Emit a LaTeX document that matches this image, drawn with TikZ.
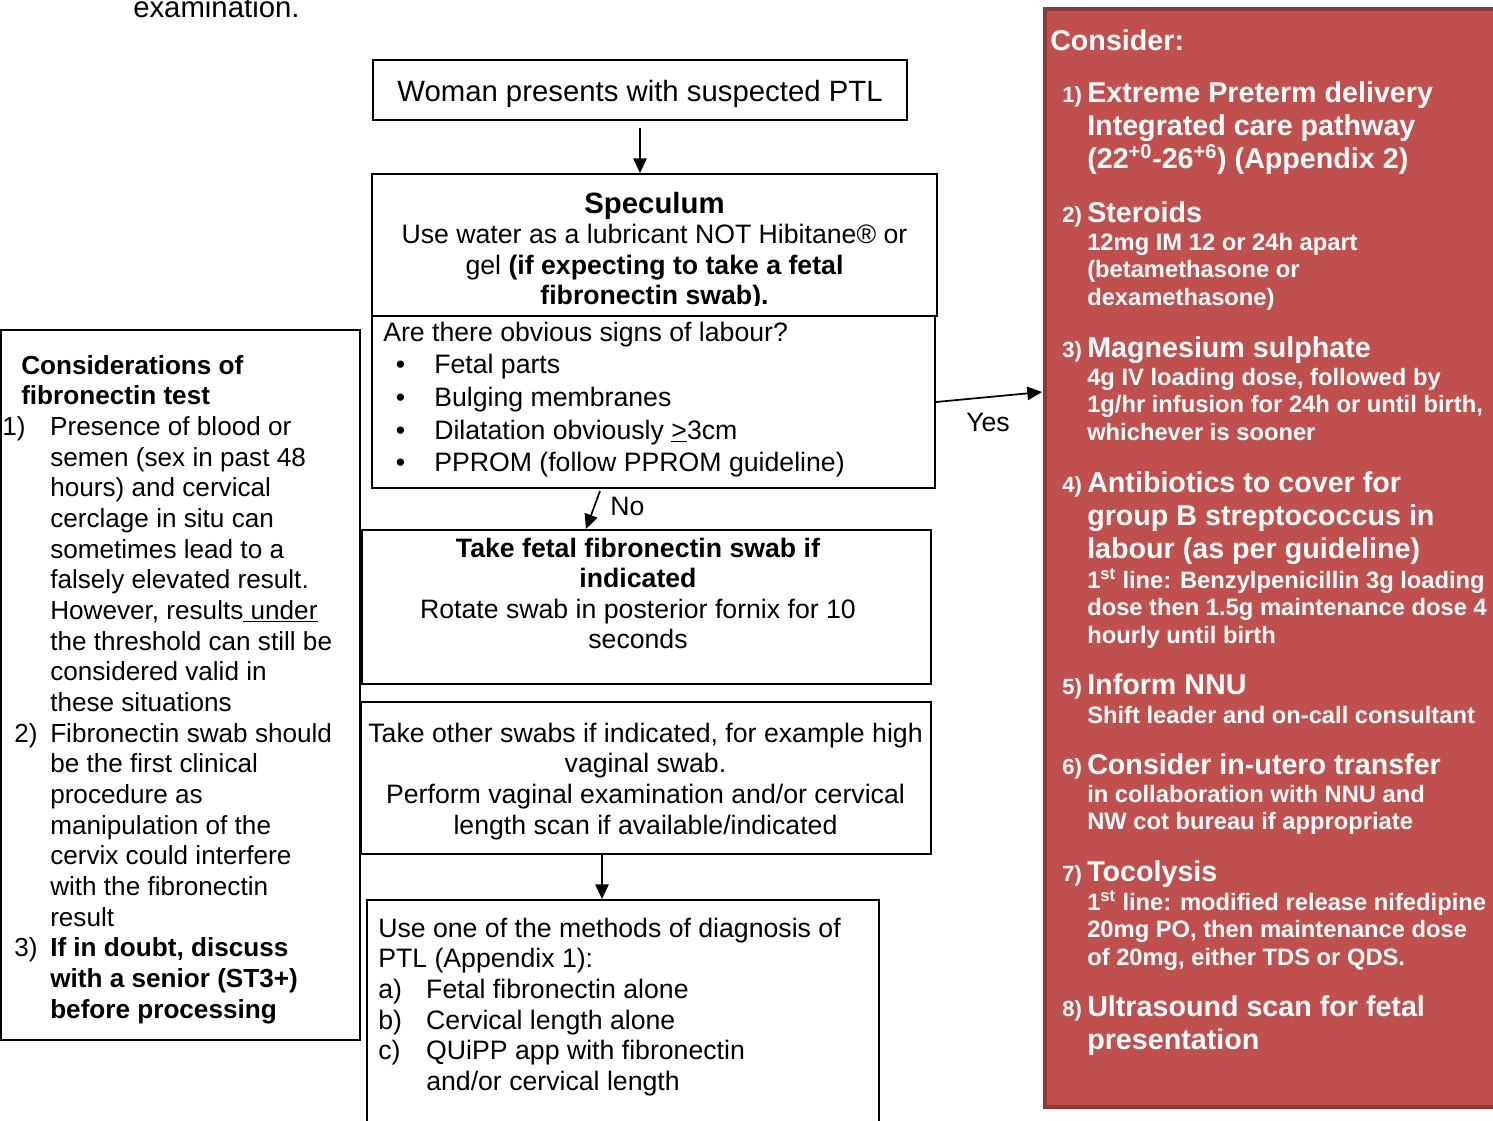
\documentclass[tikz,border=0pt]{standalone}
\usepackage{fontspec}
\setmainfont{Liberation Sans}
\usetikzlibrary{arrows.meta,fit,calc}
\definecolor{redfill}{HTML}{C0504D}
\definecolor{redline}{HTML}{8C3A38}
\newcommand\CL[2]{\vtop{\baselineskip=#1\relax\halign{\hfil##\hfil\cr#2\crcr}}}
\newcommand\LL[2]{\vtop{\baselineskip=#1\relax\halign{##\hfil\cr#2\crcr}}}
\newcommand\fbody{\fontsize{20}{22.9}\selectfont}
\newcommand\fbig{\fontsize{22}{25}\selectfont}
\newcommand\flbody{\fontsize{19.6}{23}\selectfont}
\newcommand\frhead{\fontsize{21.5}{25}\selectfont\bfseries}
\newcommand\frsub{\fontsize{17.8}{20.8}\selectfont\bfseries}
\newcommand\frnum{\fontsize{16.5}{20}\selectfont\bfseries}
\newcommand\bul{\hbox to 38.25pt{\kern9.5pt\textbullet\hss}}
\newcommand\lab[1]{\hbox to 36pt{#1\hss}}
\newcommand\gnum[2]{\hbox to 37.5pt{\kern#1pt #2\hss}}
\newcommand\gind{\kern37.5pt}
\begin{document}
\begin{tikzpicture}[x=0.75pt,y=-0.75pt,
  box/.style={draw=black,line width=1.5pt,inner sep=0pt},
  arr/.style={line width=1.3pt,-{Triangle[length=11pt,width=10pt]}},
  txt/.style={inner sep=0pt,anchor=base},
  ltxt/.style={inner sep=0pt,anchor=base west},
  rtxt/.style={inner sep=0pt,anchor=base west,text=white},
  rnum/.style={inner sep=0pt,anchor=base west,text=white,font=\frnum}]
\useasboundingbox (0,0) rectangle (1493,1121);

% red panel
\node[fit={(1045,9)(1520,1107)},fill=redfill,draw=redline,line width=2.4pt,inner sep=0pt] (R) {};

% boxes
\node[box,fit={(373,60)(907,120)}] (A) {};
\node[box,fit={(372,174)(937,316)}] (B) {};
\node[box,fit={(372,316)(935,488)}] (C) {};
\node[box,fit={(362,530)(931,684)}] (D) {};
\node[box,fit={(361,702)(931,854)}] (E) {};
\node[box,fit={(367,900)(879,1140)}] (F) {};
\node[box,fit={(1,330)(360,1040)}] (G) {};

% connectors
\draw[arr,shorten <=5.25pt] (A.south) -- (A.south |- B.north);
\coordinate (noS) at (600,491);
\draw[arr] (noS) -- ([xshift=-45.4pt]D.north);
\coordinate (yesE) at (1042,392);
\draw[arr] (C.east) -- (yesE);
\draw[arr] ([xshift=-33pt]E.south) -- ([xshift=-33pt]E.south |- F.north);

% labels
\node[txt,font=\fbody] (yes) at (988,431) {Yes};
\node[ltxt,font=\fbody] (no) at (610,515) {No};

% texts
\node[ltxt,font=\fbig] (exam) at (133,17) {examination.};
\node[txt,font=\fbig] (At) at (640,101) {Woman presents with suspected PTL};
\begin{scope}
\clip (372,170) rectangle (937,305);
\node[txt,font=\fbody] (Bt) at (654.5,213) {\CL{22.9pt}{{\fbig\bfseries Speculum}\cr
 Use water as a lubricant NOT Hibitane® or\cr
 gel \textbf{(if expecting to take a fetal}\cr
 \textbf{fibronectin swab).}}};
\end{scope}
\node[ltxt,font=\fbody] (Ct) at (383,341) {\LL{24.5pt}{Are there obvious signs of labour?\cr
 \bul Fetal parts\cr
 \bul Bulging membranes\cr
 \bul Dilatation obviously \underline{>}3cm\cr
 \bul PPROM (follow PPROM guideline)}};
\node[txt,font=\fbody] (Dt) at (638,557) {\CL{22.9pt}{\textbf{Take fetal fibronectin swab if}\cr
 \textbf{indicated}\cr
 Rotate swab in posterior fornix for 10\cr
 seconds}};
\node[txt,font=\fbody] (Et) at (645.5,742) {\CL{23pt}{Take other swabs if indicated, for example high\cr
 vaginal swab.\cr
 Perform vaginal examination and/or cervical\cr
 length scan if available/indicated}};
\node[ltxt,font=\fbody] (Ft) at (378,937) {\LL{23pt}{Use one of the methods of diagnosis of\cr
 PTL (Appendix 1):\cr
 \lab{a)}Fetal fibronectin alone\cr
 \lab{b)}Cervical length alone\cr
 \lab{c)}QUiPP app with fibronectin\cr
 \kern36pt and/or cervical length}};
\node[ltxt,font=\flbody] (Gt) at (0,374) {\LL{23pt}{\kern15.75pt\textbf{Considerations of}\cr
 \kern15.75pt\textbf{fibronectin test}\cr
 \gnum{1.5}{1)}Presence of blood or\cr
 \gind semen (sex in past 48\cr
 \gind hours) and cervical\cr
 \gind cerclage in situ can\cr
 \gind sometimes lead to a\cr
 \gind falsely elevated result.\cr
 \gind However, results\underline{\ under}\cr
 \gind the threshold can still be\cr
 \gind considered valid in\cr
 \gind these situations\cr
 \gnum{10.5}{2)}Fibronectin swab should\cr
 \gind be the first clinical\cr
 \gind procedure as\cr
 \gind manipulation of the\cr
 \gind cervix could interfere\cr
 \gind with the fibronectin\cr
 \gind result\cr
 \gnum{10.5}{3)}\textbf{If in doubt, discuss}\cr
 \gind\textbf{with a senior (ST3+)}\cr
 \gind\textbf{before processing}}};

% red panel text
\node[rtxt,font=\frhead] (cons) at (1050,50) {Consider:};
\node[rnum] (n1) at (1062,102) {1)};
\node[rtxt,font=\frhead] (h1) at (1087,102) {\LL{25.1pt}{Extreme Preterm delivery\cr
 Integrated care pathway\cr
 (22\textsuperscript{+0}-26\textsuperscript{+6}) (Appendix 2)}};
\node[rnum] (n2) at (1062,222) {2)};
\node[rtxt,font=\frhead] (h2) at (1087,222) {Steroids};
\node[rtxt,font=\frsub] (s2) at (1087,250) {\LL{20.8pt}{12mg IM 12 or 24h apart\cr
 (betamethasone or\cr
 dexamethasone)}};
\node[rnum] (n3) at (1062,357) {3)};
\node[rtxt,font=\frhead] (h3) at (1087,357) {Magnesium sulphate};
\node[rtxt,font=\frsub] (s3) at (1087,385) {\LL{20.8pt}{4g IV loading dose, followed by\cr
 1g/hr infusion for 24h or until birth,\cr
 whichever is sooner}};
\node[rnum] (n4) at (1062,492) {4)};
\node[rtxt,font=\frhead] (h4) at (1087,492) {\LL{25.1pt}{Antibiotics to cover for\cr
 group B streptococcus in\cr
 labour (as per guideline)}};
\node[rtxt,font=\frsub] (s4) at (1087,588) {\LL{20.8pt}{1\textsuperscript{st} line: Benzylpenicillin 3g loading\cr
 dose then 1.5g maintenance dose 4\cr
 hourly until birth}};
\node[rnum] (n5) at (1062,694) {5)};
\node[rtxt,font=\frhead] (h5) at (1087,694) {Inform NNU};
\node[rtxt,font=\frsub] (s5) at (1087,723) {Shift leader and on-call consultant};
\node[rnum] (n6) at (1062,774) {6)};
\node[rtxt,font=\frhead] (h6) at (1087,774) {Consider in-utero transfer};
\node[rtxt,font=\frsub] (s6) at (1087,802) {\LL{20.8pt}{in collaboration with NNU and\cr
 NW cot bureau if appropriate}};
\node[rnum] (n7) at (1062,881) {7)};
\node[rtxt,font=\frhead] (h7) at (1087,881) {Tocolysis};
\node[rtxt,font=\frsub] (s7) at (1087,910) {\LL{20.8pt}{1\textsuperscript{st} line: modified release nifedipine\cr
 20mg PO, then maintenance dose\cr
 of 20mg, either TDS or QDS.}};
\node[rnum] (n8) at (1062,1016) {8)};
\node[rtxt,font=\frhead] (h8) at (1087,1016) {\LL{25.1pt}{Ultrasound scan for fetal\cr
 presentation}};
\end{tikzpicture}
\end{document}
